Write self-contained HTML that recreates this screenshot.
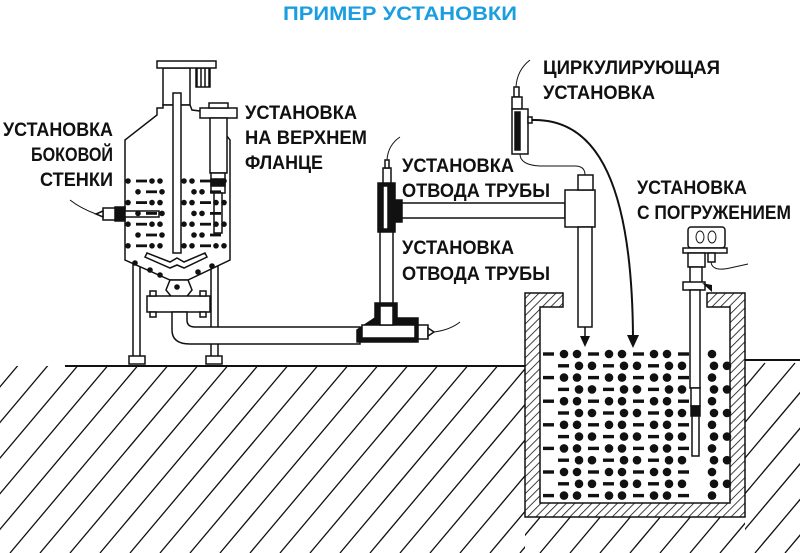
<!DOCTYPE html>
<html><head><meta charset="utf-8"><style>
html,body{margin:0;padding:0;background:#fff;}
svg{display:block}
.t{font-family:"Liberation Sans","DejaVu Sans",sans-serif;font-weight:bold;font-size:19px;fill:#111;}
</style></head><body>
<svg id="s" width="800" height="553" viewBox="0 0 800 553" xmlns="http://www.w3.org/2000/svg">
<defs>
<pattern id="hd" width="6" height="6" patternUnits="userSpaceOnUse" patternTransform="rotate(45)"><rect width="6" height="6" fill="#fff"/><line x1="0" y1="0" x2="0" y2="6" stroke="#111" stroke-width="1.6"/></pattern>
<pattern id="hv" width="4" height="4" patternUnits="userSpaceOnUse"><rect width="4" height="4" fill="#fff"/><line x1="1" y1="0" x2="1" y2="4" stroke="#111" stroke-width="1.5"/></pattern>
<clipPath id="gl"><polygon points="0,366 525,366 525,553 0,553"/></clipPath>
<clipPath id="gr"><polygon points="745,360 800,360 800,553 745,553"/></clipPath>
<clipPath id="gb"><polygon points="525,517 745,517 745,553 525,553"/></clipPath>
</defs>
<text x="283" y="20" textLength="234" lengthAdjust="spacingAndGlyphs" font-family="Liberation Sans, sans-serif" font-weight="bold" font-size="19" fill="#1a9ee0">ПРИМЕР УСТАНОВКИ</text>

<g id="hatch" stroke="#111" stroke-width="1.3"></g>
<line x1="65" y1="366" x2="525" y2="366" stroke="#111" stroke-width="2"/>
<line x1="745" y1="360" x2="800" y2="360" stroke="#111" stroke-width="2"/>

<path d="M525,293 L563,293 L563,307 L540,307 L540,503 L730,503 L730,307 L707,307 L707,293 L745,293 L745,517 L525,517 Z" fill="url(#hd)" stroke="#111" stroke-width="1.5"/>
<g id="tankdots" fill="#111"></g>

<g stroke="#111" stroke-width="1.5" fill="#fff">
<rect x="133" y="250" width="7" height="108"/><rect x="211" y="250" width="7" height="108"/>
<rect x="129" y="356" width="16" height="8"/><rect x="206" y="356" width="16" height="8"/>
<rect x="163" y="68" width="27" height="37"/>
<rect x="196" y="68" width="14" height="19" fill="url(#hv)"/>
<rect x="157" y="61" width="59" height="7"/>
<path d="M163,105 L190,105 L192,110 L208,112 L230,140 L230,260 L188,280 L170,280 L125,260 L125,140 L157,115 L157,108 L163,108 Z"/>
<path d="M170,280 L188,280 L192,290 L184,300 L174,300 L166,290 Z"/>
<rect x="147" y="296" width="63" height="16"/>
<rect x="150" y="291" width="6" height="5"/><rect x="200" y="291" width="6" height="5"/>
<rect x="150" y="312" width="6" height="5"/><rect x="200" y="312" width="6" height="5"/>
<path d="M172,312 L172,330 Q172,344 190,344 L360,344 L360,327 L195,327 Q187,327 187,320 L187,312 Z"/>
<rect x="173" y="93" width="8" height="160"/>
<path d="M147,253 L170,262 L177,258 L184,262 L205,253 L207,257 L184,268 L177,265 L170,268 L145,257 Z"/>
<rect x="200" y="108" width="37" height="10"/><rect x="209" y="103" width="19" height="5"/>
<rect x="210" y="118" width="17" height="55"/>
<rect x="211" y="173" width="14" height="20"/><rect x="211" y="179" width="14" height="7" fill="#111"/>
<rect x="214" y="193" width="8" height="40"/>
<rect x="115" y="207" width="10" height="14" fill="#111"/><rect x="103" y="208" width="12" height="12"/>
<path d="M103,211 L96,214 L103,217 Z"/>
<rect x="125" y="211" width="34" height="6"/>
</g>
<path d="M96,214 Q80,208 70,200" fill="none" stroke="#111" stroke-width="1"/>
<g id="vdots" fill="#111"></g>

<g stroke="#111" stroke-width="1.5" fill="#fff">
<rect x="380" y="225" width="13" height="85"/>
<rect x="395" y="203" width="170" height="15"/>
<rect x="565" y="190" width="30" height="37"/><rect x="578" y="175" width="15" height="15"/>
<rect x="578" y="227" width="14" height="100"/>
<path d="M378,183 L395,183 L395,200 L402,200 L402,222 L395,222 L395,232 L378,232 Z" fill="#111"/>
<rect x="383" y="186" width="5" height="43" fill="#fff"/>
<rect x="383" y="168" width="8" height="15"/><rect x="385" y="160" width="4" height="8"/>
<path d="M375,303 L397,303 L397,318 L418,318 L418,342 L357,342 L357,330 L375,318 Z" fill="#111"/>
<rect x="362" y="325" width="53" height="13"/>
<rect x="380" y="306" width="13" height="19"/>
<rect x="418" y="325" width="10" height="14"/><path d="M428,328 L434,332 L428,336 Z"/>
<rect x="514" y="87" width="5" height="10"/><rect x="512" y="97" width="10" height="12"/>
<rect x="512" y="109" width="16" height="45"/>
<rect x="515" y="112" width="5" height="38" fill="#111"/>
<rect x="528" y="117" width="4" height="6"/>
<rect x="688" y="227" width="37" height="21" rx="3"/>
<rect x="683" y="248" width="44" height="5"/>
<rect x="688" y="253" width="17" height="14"/><rect x="708" y="253" width="7" height="9"/>
<rect x="690" y="267" width="12" height="18"/>
<rect x="683" y="282" width="22" height="8"/>
<rect x="690" y="290" width="10" height="98"/>
<rect x="691" y="388" width="9" height="18"/>
<rect x="691" y="406" width="9" height="10" fill="#111"/>
<rect x="692" y="416" width="7" height="40"/>
</g>
<ellipse cx="700" cy="237" rx="4" ry="6" fill="none" stroke="#111"/><ellipse cx="712" cy="237" rx="4" ry="6" fill="none" stroke="#111"/>
<path d="M702,283 L712,292 L712,285 Z" fill="#111"/>
<g fill="none" stroke="#111" stroke-width="1">
<path d="M387,160 Q388,145 400,137"/>
<path d="M434,332 Q450,330 460,322"/>
<path d="M516,87 Q517,70 530,60"/>
<path d="M520,154 Q520,165 540,166 L575,166 Q585,166 585,175"/>
<path d="M711,262 Q712,272 730,268 L748,264"/>
</g>
<path d="M532,120 C600,118 632,190 633,337" fill="none" stroke="#111" stroke-width="2"/>
<path d="M627,335 L633,348 L639,335 Z" fill="#111"/>
<line x1="585" y1="327" x2="585" y2="338" stroke="#111" stroke-width="1.5"/>
<path d="M580,336 L585,347 L590,336 Z" fill="#111"/>

<text class="t" x="3" y="136" textLength="110" lengthAdjust="spacingAndGlyphs">УСТАНОВКА</text>
<text class="t" x="31" y="161" textLength="82" lengthAdjust="spacingAndGlyphs">БОКОВОЙ</text>
<text class="t" x="40" y="186" textLength="73" lengthAdjust="spacingAndGlyphs">СТЕНКИ</text>
<text class="t" x="245" y="119" textLength="112" lengthAdjust="spacingAndGlyphs">УСТАНОВКА</text>
<text class="t" x="245" y="144" textLength="122" lengthAdjust="spacingAndGlyphs">НА ВЕРХНЕМ</text>
<text class="t" x="245" y="169" textLength="78" lengthAdjust="spacingAndGlyphs">ФЛАНЦЕ</text>
<text class="t" x="402" y="172" textLength="112" lengthAdjust="spacingAndGlyphs">УСТАНОВКА</text>
<text class="t" x="402" y="197" textLength="148" lengthAdjust="spacingAndGlyphs">ОТВОДА ТРУБЫ</text>
<text class="t" x="402" y="254" textLength="112" lengthAdjust="spacingAndGlyphs">УСТАНОВКА</text>
<text class="t" x="402" y="280" textLength="148" lengthAdjust="spacingAndGlyphs">ОТВОДА ТРУБЫ</text>
<text class="t" x="543" y="74" textLength="177" lengthAdjust="spacingAndGlyphs">ЦИРКУЛИРУЮЩАЯ</text>
<text class="t" x="543" y="99" textLength="112" lengthAdjust="spacingAndGlyphs">УСТАНОВКА</text>
<text class="t" x="637" y="194" textLength="110" lengthAdjust="spacingAndGlyphs">УСТАНОВКА</text>
<text class="t" x="637" y="219" textLength="154" lengthAdjust="spacingAndGlyphs">С ПОГРУЖЕНИЕМ</text>
</svg>
<script>
var NS="http://www.w3.org/2000/svg";
function el(p,n,a){var e=document.createElementNS(NS,n);for(var k in a)e.setAttribute(k,a[k]);p.appendChild(e);return e;}
var h=document.getElementById("hatch");
[["gl",0,545],["gr",745,830],["gb",500,760]].forEach(function(r){
 var g=el(h,"g",{"clip-path":"url(#"+r[0]+")"});
 for(var x=r[1]-200;x<r[2];x+=30){el(g,"line",{x1:x,y1:553,x2:x+160,y2:363});}
});
var td=document.getElementById("tankdots");
for(var i=0;i<13;i++){
 var y=354+i*11.8, off=(i%2)?15:0;
 for(var x=545+off-45;x<730;x+=45){
  [[x,"d"],[x+15,"c"],[x+28,"c"]].forEach(function(it){var xx=it[0];
   if(xx<545||xx>724)return;
   if(xx>683&&xx<706)return;
   if(it[1]=="c")el(td,"circle",{cx:xx+4,cy:y,r:4.3});
   else el(td,"rect",{x:xx-2,y:y-1.7,width:11,height:3.4});
  });
 }
}
var vd=document.getElementById("vdots");
for(var i=0;i<7;i++){
 var y=181+i*10.8, off=(i%2)?10:0;
 for(var x=128+off;x<228;x+=32){
  [[x,"c"],[x+10,"d"],[x+24,"c"]].forEach(function(it){var xx=it[0];
   if(xx<128||xx>224)return;if(xx>169&&xx<184)return;
   if(it[1]=="c")el(vd,"circle",{cx:xx,cy:y,r:2.8});else el(vd,"rect",{x:xx-2,y:y-1.4,width:11,height:2.8});
  });
 }
}
[[135,263],[150,270],[160,275],[198,272],[212,266],[177,287]].forEach(function(p){el(vd,"circle",{cx:p[0],cy:p[1],r:2.8});});
</script>
</body></html>
